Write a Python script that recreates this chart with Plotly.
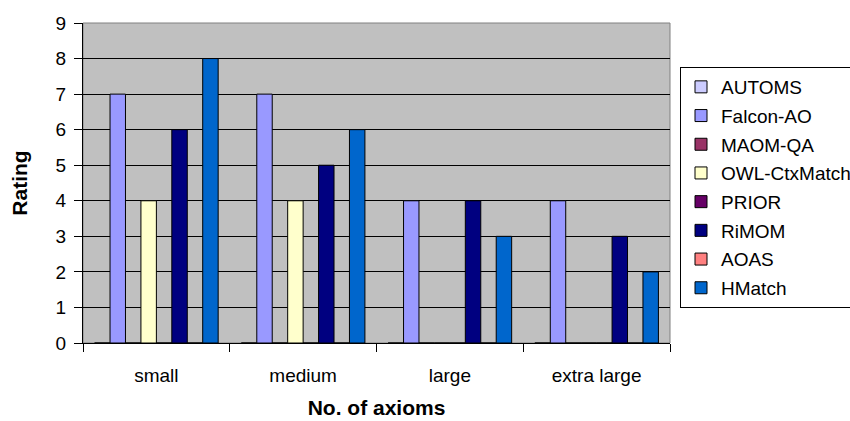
import plotly.graph_objects as go

categories = ["small", "medium", "large", "extra large"]

automs = [0, 0, 0, 0]
falcon_ao = [7, 7, 4, 4]
maom_qa = [0, 0, 0, 0]
owl_ctxmatch = [4, 4, 0, 0]
prior = [0, 0, 0, 0]
rimom = [6, 5, 4, 3]
aoas = [0, 0, 0, 0]
hmatch = [8, 6, 3, 2]

series = [
    ("AUTOMS", automs, "#CCCCFF"),
    ("Falcon-AO", falcon_ao, "#9999FF"),
    ("MAOM-QA", maom_qa, "#993366"),
    ("OWL-CtxMatch", owl_ctxmatch, "#FFFFCC"),
    ("PRIOR", prior, "#660066"),
    ("RiMOM", rimom, "#000080"),
    ("AOAS", aoas, "#FF8080"),
    ("HMatch", hmatch, "#0066CC"),
]

font_family = "Liberation Sans, Arial, sans-serif"

fig = go.Figure()
for name, vals, color in series:
    fig.add_trace(go.Bar(
        x=categories, y=vals, name=name, legendgroup=name,
        marker=dict(color=color, line=dict(color="#000000", width=1)),
    ))

fig.update_layout(
    width=850, height=421,
    margin=dict(l=83, r=180, t=23, b=78, autoexpand=False),
    paper_bgcolor="white",
    plot_bgcolor="#C0C0C0",
    barmode="group",
    bargap=0.158,
    bargroupgap=0,
    font=dict(family=font_family, size=19, color="#000000"),
    showlegend=True,
    legend=dict(
        x=(680 - 83) / 587, xanchor="left", y=(343 - 67) / 320, yanchor="top",
        bordercolor="#000000", borderwidth=1,
        bgcolor="white",
        font=dict(size=19),
        tracegroupgap=1,
        itemclick=False,
    ),
    xaxis=dict(
        type="category",
        tickson="boundaries",
        ticks="outside", ticklen=8, tickcolor="#000000",
        showline=True, linecolor="#000000", linewidth=1,
        showgrid=False,
        ticklabelstandoff=15,
        title=dict(text="<b>No. of axioms</b>", font=dict(size=21), standoff=15),
    ),
    yaxis=dict(
        range=[0, 9], dtick=1,
        ticks="outside", ticklen=8, tickcolor="#000000",
        showline=True, linecolor="#000000", linewidth=1,
        showgrid=True, gridcolor="#000000", gridwidth=1,
        zeroline=False,
        ticklabelstandoff=4,
        title=dict(text="<b>Rating</b>", font=dict(size=21), standoff=22),
    ),
)

# thin grey frame around the plotting area
fig.add_shape(type="rect", xref="paper", yref="paper", x0=0, y0=0, x1=1, y1=1,
              line=dict(color="#808080", width=1), layer="below")

fig.write_html("out.html")
